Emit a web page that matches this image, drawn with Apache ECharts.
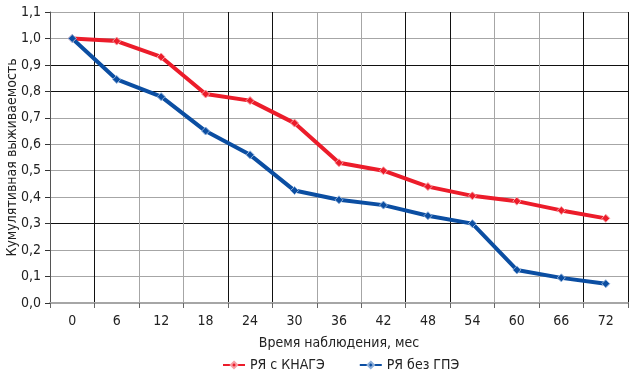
<!DOCTYPE html>
<html><head><meta charset="utf-8">
<script src="https://cdn.jsdelivr.net/npm/echarts@6/dist/echarts.min.js"></script>
<style>html,body{margin:0;padding:0;background:#fff}#c{width:632px;height:388px}</style>
</head><body><div id="c"></div>
<script>
var categories = ['0','6','12','18','24','30','36','42','48','54','60','66','72'];
var seriesNames = ['РЯ с КНАГЭ', 'РЯ без ГПЭ'];
var redValues = [1.0, 0.99, 0.93, 0.79, 0.765, 0.68, 0.53, 0.50, 0.44, 0.405, 0.385, 0.35, 0.32];
var blueValues = [1.0, 0.845, 0.78, 0.65, 0.56, 0.425, 0.39, 0.37, 0.33, 0.30, 0.125, 0.095, 0.073];
var xTitle = 'Время наблюдения, мес';
var yTitle = 'Кумулятивная выживаемость';

var FONT = '"DejaVu Sans Condensed", "Liberation Sans Narrow", Roboto, sans-serif';
var chart = echarts.init(document.getElementById('c'));
var G = '#a6a6a6', B = '#111';
chart.setOption({
  animation: false,
  textStyle: {fontFamily: FONT},
  grid: {left: 50, right: 4, top: 12, bottom: 85, containLabel: false, outerBoundsMode: 'none'},
  legend: {
    bottom: 11, left: 217, itemWidth: 22, itemHeight: 8, itemGap: 34,
    textStyle: {fontSize: 14, color: '#222', fontFamily: FONT},
    data: seriesNames
  },
  xAxis: {
    type: 'category', data: categories, boundaryGap: true,
    name: xTitle, nameLocation: 'middle', nameGap: 33, nameMoveOverlap: false,
    nameTextStyle: {fontSize: 14, color: '#222', fontFamily: FONT},
    axisLine: {lineStyle: {color: G, width: 2}},
    axisTick: {show: true, length: 5, lineStyle: {color: '#666'}},
    axisLabel: {fontSize: 14, color: '#222', margin: 11, fontFamily: FONT},
    splitLine: {show: true, lineStyle: {color: [B, B, G, G], width: 1}}
  },
  yAxis: {
    type: 'value', min: 0, max: 1.1, interval: 0.1,
    name: yTitle, nameLocation: 'middle', nameGap: 31, nameRotate: 90, nameMoveOverlap: false,
    nameTextStyle: {fontSize: 14, color: '#222', fontFamily: FONT},
    axisLine: {show: true, lineStyle: {color: '#555', width: 1}},
    axisTick: {show: true, length: 5, lineStyle: {color: '#333'}},
    axisLabel: {fontSize: 14, color: '#222', margin: 9, fontFamily: FONT,
      formatter: function(v){ return v.toFixed(1).replace('.', ','); }},
    splitLine: {show: true, lineStyle: {color: [G, G, G, B, G, G, G, G, B, B, G, G], width: 1}}
  },
  series: [
    {name: seriesNames[0], type: 'line', data: redValues, symbol: 'diamond', symbolSize: 8,
     lineStyle: {color: '#ec1c2a', width: 4}, itemStyle: {color: '#ec1c2a', borderColor: '#f7a0a6', borderWidth: 1}},
    {name: seriesNames[1], type: 'line', data: blueValues, symbol: 'diamond', symbolSize: 8,
     lineStyle: {color: '#0b4ea2', width: 4}, itemStyle: {color: '#0b4ea2', borderColor: '#8fb0da', borderWidth: 1}}
  ]
});
</script></body></html>
